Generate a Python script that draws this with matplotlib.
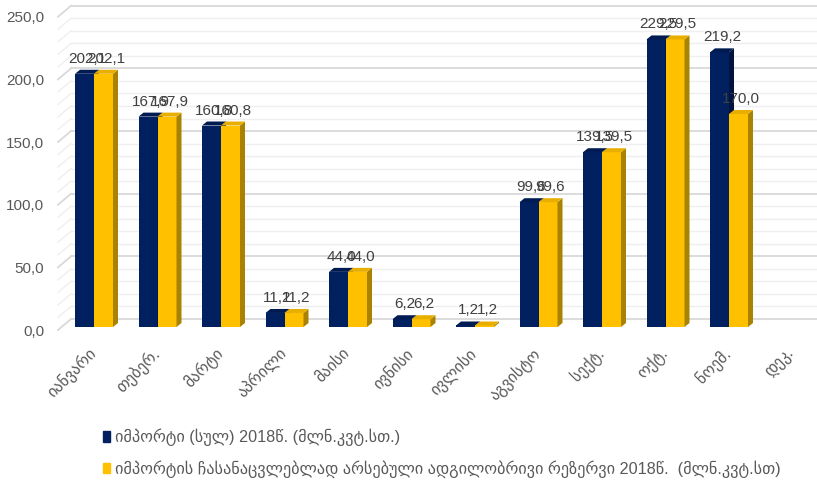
import matplotlib
matplotlib.use('Agg')
from matplotlib import pyplot as plt
from matplotlib.patches import Polygon, Patch
from matplotlib.transforms import ScaledTranslation

plt.rcParams['font.family'] = ['Liberation Sans', 'DejaVu Sans']

# Data
months = ['იანვარი', 'თებერ.', 'მარტი', 'აპრილი', 'მაისი', 'ივნისი',
          'ივლისი', 'აგვისტო', 'სექტ.', 'ოქტ.', 'ნოემ.', 'დეკ.']
imports = [202.1, 167.9, 160.8, 11.2, 44.0, 6.2, 1.2, 99.6, 139.5, 229.5, 219.2, None]
reserve = [202.1, 167.9, 160.8, 11.2, 44.0, 6.2, 1.2, 99.6, 139.5, 229.5, 170.0, None]
label_imports = 'იმპორტი (სულ) 2018წ. (მლნ.კვტ.სთ.)'
label_reserve = 'იმპორტის ჩასანაცვლებლად არსებული ადგილობრივი რეზერვი 2018წ.  (მლნ.კვტ.სთ)'

navy, navy_side, navy_top = '#002060', '#00143f', '#001a52'
gold, gold_side, gold_top = '#FFC000', '#A88200', '#E8AE00'

W, H = 817, 480
fig = plt.figure(figsize=(W / 100, H / 100), dpi=100)
# axes in pixels: x 58..817, y 13.75..327 (bar plane zero at 327)
ax = fig.add_axes([58 / W, (H - 327) / H, (W - 58) / W, 313.25 / H])

px_x = 63.5          # pixels per category
px_y = 1.253         # pixels per unit
x0 = -(94 - 58) / px_x
x1 = x0 + (W - 58) / px_x
ax.set_xlim(x0, x1)
ax.set_ylim(0, 250)

# Walls: back gridlines and left-wall diagonals
back_dx = 13 / px_x
back_dy = 8 / px_y
front_dy = -3 / px_y
for level in range(0, 251, 10):
    major = level % 50 == 0
    c = '#d9d9d9' if major else '#efefef'
    lw = 1.3 if major else 1.0
    ax.plot([x0 + back_dx, x1], [level + back_dy] * 2, color=c, lw=lw,
            clip_on=False, zorder=0)
    ax.plot([x0, x0 + back_dx], [level + front_dy, level + back_dy], color=c,
            lw=lw, clip_on=False, zorder=0)

# 3D bars
bw = 19 / px_x
sdx = 5 / px_x
sdy = 4 / px_y


def bar3d(xl, v, front, side, top):
    ax.bar(xl, v, width=bw, align='edge', color=front, zorder=3, lw=0)
    ax.add_patch(Polygon([(xl + bw, 0), (xl + bw + sdx, sdy), (xl + bw + sdx, v + sdy),
                          (xl + bw, v)], closed=True, color=side, lw=0, zorder=3))
    ax.add_patch(Polygon([(xl, v), (xl + bw, v), (xl + bw + sdx, v + sdy),
                          (xl + sdx, v + sdy)], closed=True, color=top, lw=0, zorder=3))


for i in range(len(months)):
    for j, (vals, cols) in enumerate([(imports, (navy, navy_side, navy_top)),
                                      (reserve, (gold, gold_side, gold_top))]):
        v = vals[i]
        if v is None:
            continue
        xl = i - bw + j * bw
        bar3d(xl, v, *cols)
        ax.annotate(f'{v:.1f}'.replace('.', ','), (xl + bw / 2 + sdx / 2, v),
                    xytext=(0, 15), textcoords='offset pixels', ha='center',
                    va='center', fontsize=11, color='#404040', zorder=5)

# Axes formatting
for s in ax.spines.values():
    s.set_visible(False)
ax.set_yticks(range(0, 251, 50))
ax.set_yticklabels([f'{t},0' for t in range(0, 251, 50)])
ax.tick_params(axis='y', length=0, pad=10, labelsize=11, labelcolor='#595959')
for lab in ax.get_yticklabels():
    lab.set_transform(lab.get_transform() + ScaledTranslation(0, -3 / 100, fig.dpi_scale_trans))

ax.set_xticks([i - 0.1 for i in range(len(months))])
ax.set_xticklabels(months, rotation=45, ha='right', rotation_mode='anchor')
ax.tick_params(axis='x', length=0, pad=13, labelsize=11.5, labelcolor='#595959')

handles = [Patch(color=navy, label=label_imports), Patch(color=gold, label=label_reserve)]
fig.legend(handles=handles, loc='upper left', bbox_to_anchor=(88 / W, 1 - 414 / H),
           frameon=False, handlelength=0.45, handleheight=0.6, handletextpad=0.3,
           labelspacing=0.85, fontsize=11.7, labelcolor='#595959')

fig.savefig('out.png', dpi=100)
